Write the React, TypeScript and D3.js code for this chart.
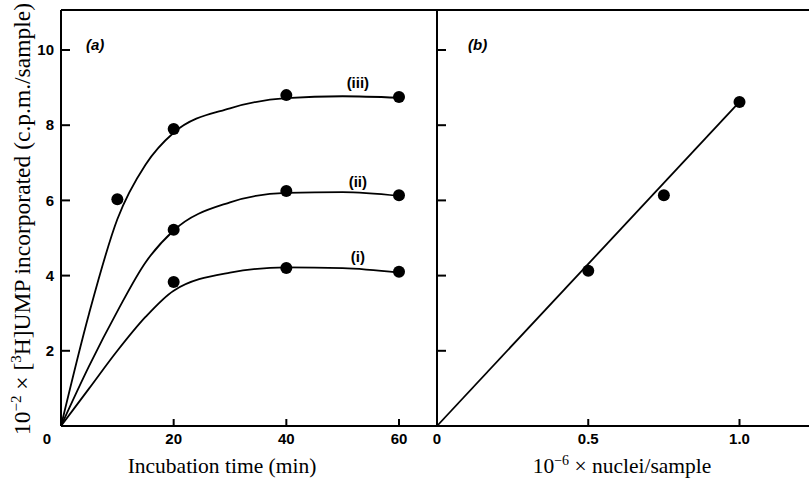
import React from "react";
import * as d3 from "d3";

// panel (a): incubation time course, three curves
const seriesPts: { name: string; t: number[]; v: number[] }[] = [
  { name: "(iii)", t: [10, 20, 40, 60], v: [6.03, 7.9, 8.8, 8.75] },
  { name: "(ii)", t: [20, 40, 60], v: [5.22, 6.25, 6.14] },
  { name: "(i)", t: [20, 40, 60], v: [3.83, 4.2, 4.1] },
];
// hand-drawn fitted curves
const curveT = [0, 5, 10, 15, 20, 30, 40, 50, 60];
const curveIII = [0, 3.0, 5.5, 6.95, 7.8, 8.45, 8.72, 8.77, 8.73];
const curveII = [0, 1.6, 3.05, 4.35, 5.2, 5.95, 6.2, 6.22, 6.12];
const curveI = [0, 1.0, 2.0, 2.9, 3.6, 4.08, 4.22, 4.2, 4.08];
const curveLabels = ["(iii)", "(ii)", "(i)"];
const labelAt = [9.12, 6.5, 4.5]; // y value of each label (x = 52.7 min)

// panel (b): nuclei per sample
const nuclei = [0.5, 0.75, 1.0];
const nucleiVals = [4.13, 6.14, 8.62];
const lineB = [
  [0, 0],
  [1.0, 8.62],
];

const yTicks = [0, 2, 4, 6, 8, 10];
const xTicksA = [20, 40, 60];
const xTicksB = [0.5, 1.0];

export default function App() {
  const W = 809,
    H = 481;
  const top = 10,
    bottom = 426,
    leftA = 61,
    div = 437,
    rightB = 809;

  const y = d3.scaleLinear().domain([0, 10]).range([bottom, 50]);
  const xA = d3.scaleLinear().domain([0, 60]).range([leftA, 399]);
  const xB = d3.scaleLinear().domain([0, 1]).range([div, 739.5]);

  const line = d3
    .line<[number, number]>()
    .x((d) => xA(d[0]))
    .y((d) => y(d[1]))
    .curve(d3.curveMonotoneX);
  const curves = [curveIII, curveII, curveI].map((c) =>
    line(curveT.map((t, i) => [t, c[i]] as [number, number]))
  );
  const lineBPath = d3
    .line<number[]>()
    .x((d) => xB(d[0]))
    .y((d) => y(d[1]))(lineB);

  const tickFont = {
    fontFamily: "'Liberation Sans', Arial, sans-serif",
    fontWeight: 700,
    fontSize: 15,
  } as const;
  const titleFont = {
    fontFamily: "'Liberation Serif', 'Times New Roman', serif",
    fontSize: 21.5,
  } as const;

  return (
    <svg
      width={W}
      height={H}
      style={{ position: "absolute", left: 0, top: 0, background: "#fff" }}
    >
      <g stroke="#000" strokeWidth={2} fill="none">
        <line x1={leftA} x2={rightB} y1={top} y2={top} />
        <line x1={leftA} x2={rightB} y1={bottom} y2={bottom} />
        <line x1={leftA} x2={leftA} y1={top} y2={bottom} />
        <line x1={div} x2={div} y1={top} y2={bottom} />
        {yTicks.slice(1).map((v) => (
          <g key={v}>
            <line x1={leftA} x2={leftA + 9} y1={y(v)} y2={y(v)} />
            <line x1={div} x2={div + 9} y1={y(v)} y2={y(v)} />
          </g>
        ))}
        {xTicksA.map((v) => (
          <line key={v} x1={xA(v)} x2={xA(v)} y1={bottom} y2={bottom - 7} />
        ))}
        {xTicksB.map((v) => (
          <line key={v} x1={xB(v)} x2={xB(v)} y1={bottom} y2={bottom - 7} />
        ))}
      </g>

      <g stroke="#000" strokeWidth={1.8} fill="none">
        {curves.map((p, i) => (
          <path key={i} d={p || ""} />
        ))}
        <path d={lineBPath || ""} />
      </g>
      <g fill="#000">
        {seriesPts.map((s) =>
          s.t.map((t, i) => (
            <circle key={s.name + t} cx={xA(t)} cy={y(s.v[i])} r={6} />
          ))
        )}
        {nuclei.map((n, i) => (
          <circle key={n} cx={xB(n)} cy={y(nucleiVals[i])} r={6} />
        ))}
      </g>
      {curveLabels.map((l, i) => (
        <text
          key={l}
          x={xA(52.7)}
          y={y(labelAt[i])}
          textAnchor="middle"
          dy="0.35em"
          style={tickFont}
        >
          {l}
        </text>
      ))}

      {/* panel letters */}
      <text x={86} y={50} style={{ ...tickFont, fontSize: 15, fontStyle: "italic" }}>
        (a)
      </text>
      <text x={468} y={50} style={{ ...tickFont, fontSize: 15, fontStyle: "italic" }}>
        (b)
      </text>

      {/* tick labels */}
      {yTicks.slice(1).map((v) => (
        <text key={v} x={54} y={y(v)} dy="0.35em" textAnchor="end" style={tickFont}>
          {v}
        </text>
      ))}
      <text x={47} y={444} textAnchor="middle" style={tickFont}>
        0
      </text>
      {xTicksA.map((v) => (
        <text key={v} x={xA(v)} y={444} textAnchor="middle" style={tickFont}>
          {v}
        </text>
      ))}
      <text x={xB(0)} y={444} textAnchor="middle" style={tickFont}>
        0
      </text>
      {xTicksB.map((v) => (
        <text key={v} x={xB(v)} y={444} textAnchor="middle" style={tickFont}>
          {d3.format(".1f")(v)}
        </text>
      ))}

      {/* axis titles */}
      <text x={222} y={473} textAnchor="middle" style={titleFont}>
        Incubation time (min)
      </text>
      <text x={622} y={473} textAnchor="middle" style={titleFont}>
        10
        <tspan dy={-8} fontSize={14}>
          −6
        </tspan>
        <tspan dy={8}> × nuclei/sample</tspan>
      </text>
      <text
        transform="translate(30,219) rotate(-90)"
        textAnchor="middle"
        style={{ ...titleFont, fontSize: 23.5 }}
      >
        10
        <tspan dy={-9} fontSize={15}>
          −2
        </tspan>
        <tspan dy={9}> × [</tspan>
        <tspan dy={-9} fontSize={15}>
          3
        </tspan>
        <tspan dy={9}>H]UMP incorporated (c.p.m./sample)</tspan>
      </text>
    </svg>
  );
}
